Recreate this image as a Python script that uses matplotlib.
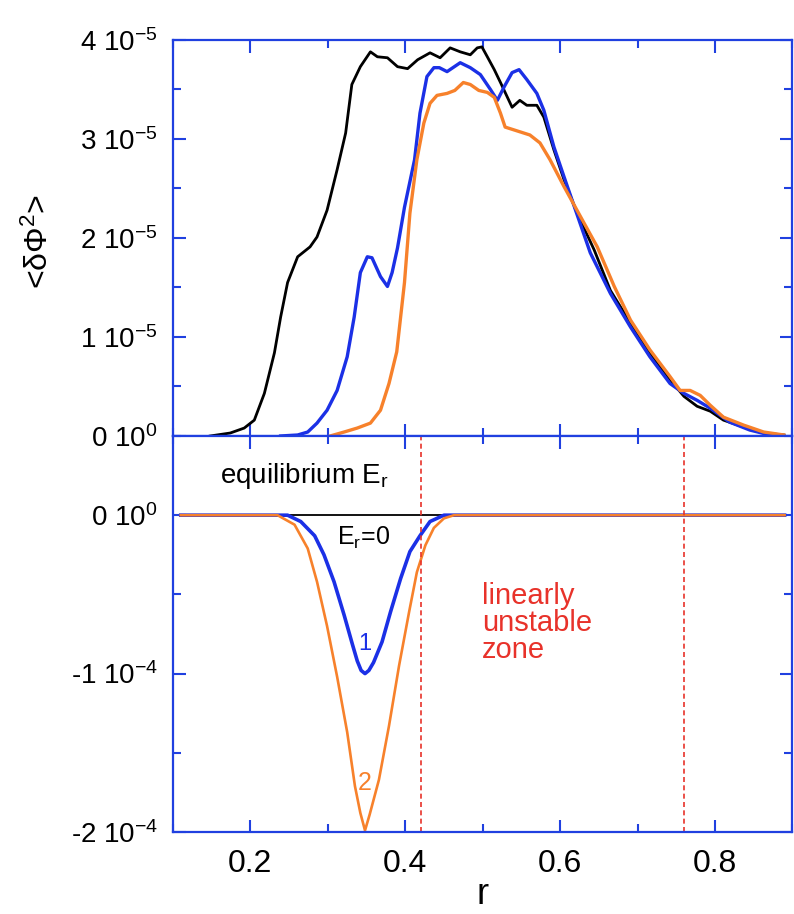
import matplotlib
matplotlib.use("Agg")
import matplotlib.pyplot as plt
import numpy as np
from matplotlib.ticker import MultipleLocator

plt.rcParams['font.family'] = ['Liberation Sans', 'DejaVu Sans']
plt.rcParams['mathtext.fontset'] = 'custom'
plt.rcParams['mathtext.rm'] = 'Liberation Sans'
plt.rcParams['mathtext.it'] = 'Liberation Sans:italic'
plt.rcParams['mathtext.default'] = 'regular'

# top panel: <dPhi^2> profiles, in units of 1e-5
r_black = [0.148, 0.174, 0.192, 0.205, 0.218, 0.231, 0.239, 0.248, 0.261, 0.277, 0.286, 0.299,
           0.312, 0.323, 0.331, 0.342, 0.355, 0.364, 0.377, 0.390, 0.403, 0.416, 0.432, 0.445,
           0.458, 0.471, 0.484, 0.493, 0.499, 0.506, 0.515, 0.523, 0.538, 0.548, 0.557, 0.570,
           0.579, 0.592, 0.605, 0.622, 0.644, 0.665, 0.691, 0.716, 0.742, 0.760, 0.777, 0.794,
           0.811, 0.837, 0.863, 0.889]
phi_black = [0, 0.03, 0.08, 0.16, 0.43, 0.84, 1.2, 1.55, 1.81, 1.91, 2.01, 2.28,
             2.69, 3.06, 3.55, 3.73, 3.88, 3.83, 3.82, 3.73, 3.71, 3.80, 3.87, 3.82,
             3.92, 3.88, 3.85, 3.92, 3.93, 3.83, 3.70, 3.57, 3.32, 3.39, 3.34, 3.34,
             3.22, 2.89, 2.59, 2.25, 1.88, 1.47, 1.14, 0.84, 0.57, 0.40, 0.30, 0.25,
             0.16, 0.09, 0.03, 0.01]

r_blue = [0.239, 0.261, 0.274, 0.286, 0.299, 0.312, 0.325, 0.334, 0.342, 0.351, 0.357, 0.368,
          0.377, 0.383, 0.390, 0.399, 0.412, 0.419, 0.428, 0.437, 0.444, 0.454, 0.471, 0.484,
          0.497, 0.510, 0.519, 0.528, 0.538, 0.547, 0.557, 0.570, 0.579, 0.592, 0.605, 0.639,
          0.665, 0.691, 0.716, 0.742, 0.760, 0.777, 0.794, 0.819, 0.845, 0.871, 0.889]
phi_blue = [0, 0.01, 0.04, 0.13, 0.26, 0.46, 0.80, 1.20, 1.65, 1.81, 1.80, 1.61,
            1.51, 1.65, 1.9, 2.31, 2.79, 3.26, 3.63, 3.72, 3.72, 3.68, 3.77, 3.72,
            3.65, 3.50, 3.39, 3.53, 3.67, 3.70, 3.60, 3.46, 3.29, 2.92, 2.62, 1.85,
            1.44, 1.10, 0.80, 0.53, 0.43, 0.36, 0.28, 0.14, 0.06, 0.01, 0]

r_orange = [0.303, 0.321, 0.338, 0.355, 0.368, 0.379, 0.389, 0.399, 0.406, 0.415, 0.424, 0.432,
            0.441, 0.454, 0.464, 0.475, 0.484, 0.495, 0.506, 0.515, 0.523, 0.529, 0.541, 0.553,
            0.561, 0.574, 0.587, 0.605, 0.631, 0.648, 0.670, 0.691, 0.716, 0.742, 0.755, 0.768,
            0.781, 0.794, 0.811, 0.837, 0.863, 0.889]
phi_orange = [0, 0.04, 0.08, 0.13, 0.26, 0.53, 0.85, 1.55, 2.25, 2.79, 3.16, 3.36,
              3.44, 3.46, 3.49, 3.57, 3.55, 3.49, 3.47, 3.42, 3.26, 3.12, 3.09, 3.06,
              3.04, 2.96, 2.79, 2.52, 2.15, 1.91, 1.51, 1.17, 0.87, 0.60, 0.46, 0.46,
              0.41, 0.31, 0.19, 0.11, 0.04, 0.01]

# bottom panel: equilibrium E_r, in units of 1e-4
r_er0 = [0.11, 0.89]
er0 = [0, 0]
r_er1 = [0.11, 0.248, 0.265, 0.283, 0.295, 0.308, 0.321, 0.332, 0.338, 0.343, 0.348, 0.353,
         0.359, 0.370, 0.381, 0.394, 0.406, 0.419, 0.432, 0.450, 0.89]
er1 = [0, 0, -0.04, -0.13, -0.25, -0.42, -0.63, -0.82, -0.92, -0.98, -1.0, -0.98,
       -0.93, -0.80, -0.61, -0.40, -0.23, -0.13, -0.04, 0, 0]
r_er2 = [0.11, 0.235, 0.257, 0.274, 0.286, 0.299, 0.312, 0.325, 0.335, 0.342, 0.348, 0.354,
         0.366, 0.379, 0.392, 0.405, 0.415, 0.426, 0.437, 0.450, 0.463, 0.89]
er2 = [0, 0, -0.06, -0.21, -0.42, -0.70, -1.02, -1.37, -1.71, -1.88, -1.99, -1.89,
       -1.67, -1.33, -0.95, -0.61, -0.36, -0.19, -0.08, -0.02, 0, 0]

zone_edges = [0.42, 0.76]

x_ticks = [0.2, 0.4, 0.6, 0.8]
x_labels = ['0.2', '0.4', '0.6', '0.8']
top_yticks = [0, 1e-5, 2e-5, 3e-5, 4e-5]
top_ylabels = ['0 10$^{0}$', '1 10$^{-5}$', '2 10$^{-5}$', '3 10$^{-5}$', '4 10$^{-5}$']
bot_yticks = [-2e-4, -1e-4, 0]
bot_ylabels = ['-2 10$^{-4}$', '-1 10$^{-4}$', '0 10$^{0}$']

BLUE = '#1b30e6'
ORANGE = '#f7812b'
RED = '#e8322a'
FRAME = '#2040e0'


def style_axes(ax):
    for s in ax.spines.values():
        s.set_color(FRAME)
        s.set_linewidth(1.6)
    ax.tick_params(which='both', direction='in', top=True, right=True,
                   color=FRAME, width=1.5, labelcolor='black')
    ax.tick_params(which='major', length=9)
    ax.tick_params(which='minor', length=5.5)
    ax.tick_params(axis='y', labelsize=20, pad=11)
    ax.tick_params(axis='x', labelsize=23, pad=12)


def main():
    fig = plt.figure(figsize=(7.94, 9.14), dpi=100)
    ax1 = fig.add_axes([0.2179, 0.5230, 0.7800, 0.4333])
    ax2 = fig.add_axes([0.2179, 0.0897, 0.7800, 0.4333], sharex=ax1)

    ax1.plot(r_black, np.array(phi_black) * 1e-5, color='black', lw=2.0)
    ax1.plot(r_blue, np.array(phi_blue) * 1e-5, color=BLUE, lw=2.4)
    ax1.plot(r_orange, np.array(phi_orange) * 1e-5, color=ORANGE, lw=2.4)
    ax1.set_ylim(0, 4e-5)
    ax1.set_yticks(top_yticks, top_ylabels)
    ax1.yaxis.set_minor_locator(MultipleLocator(0.5e-5))
    ax1.set_ylabel('<δΦ$^{2}$>', fontsize=23)
    ax1.yaxis.set_label_coords(-0.19, 0.49)
    ax1.tick_params(axis='x', labelbottom=False)

    ax2.plot(r_er0, np.array(er0) * 1e-4, color='black', lw=1.3)
    ax2.plot(r_er1, np.array(er1) * 1e-4, color=BLUE, lw=2.6)
    ax2.plot(r_er2, np.array(er2) * 1e-4, color=ORANGE, lw=1.9)
    for r0 in zone_edges:
        ax2.axvline(r0, color=RED, lw=1.2, dashes=(3, 2))
    ax2.set_ylim(-2e-4, 0.5e-4)
    ax2.set_yticks(bot_yticks, bot_ylabels)
    ax2.yaxis.set_minor_locator(MultipleLocator(0.5e-4))

    ax2.text(0.161, 0.203e-4, 'equilibrium E$_{r}$', fontsize=20, ha='left', va='baseline')
    ax2.text(0.312, -0.19e-4, 'E$_{r}$=0', fontsize=18, ha='left', va='baseline')
    ax2.text(0.348, -0.81e-4, '1', fontsize=17, color=BLUE, ha='center', va='center')
    ax2.text(0.348, -1.69e-4, '2', fontsize=18, color=ORANGE, ha='center', va='center')
    ax2.text(0.499, -0.42e-4, 'linearly\nunstable\nzone', fontsize=21, color=RED,
             ha='left', va='top', linespacing=0.95)

    ax1.set_xlim(0.1, 0.9)
    ax2.set_xticks(x_ticks, x_labels)
    ax2.xaxis.set_minor_locator(MultipleLocator(0.1))
    ax2.set_xlabel('r', fontsize=26, labelpad=-1)

    style_axes(ax1)
    style_axes(ax2)

    fig.savefig('out.png', dpi=100)


if __name__ == "__main__":
    main()
